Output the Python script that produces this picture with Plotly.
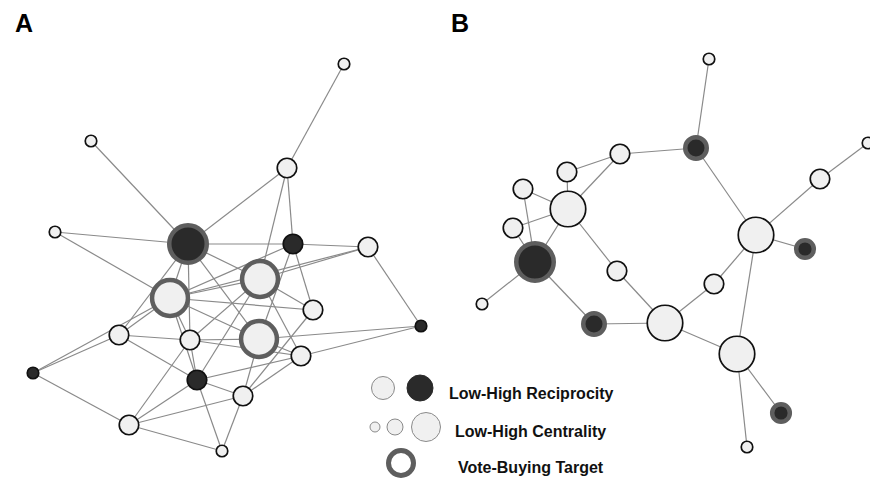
import plotly.graph_objects as go

# ---------------- data ----------------
# Panel A network
a_x = [344, 91, 287, 55, 188, 293, 368, 260, 170, 313, 421, 119, 190, 259, 301, 33, 197, 243, 129, 222]
a_y = [64, 141, 168, 232, 244, 244, 247, 279, 298, 310, 326, 335, 340, 339, 356, 373, 380, 396, 425, 451]
a_recip = [0, 0, 0, 0, 1, 1, 0, 0, 0, 0, 1, 0, 0, 0, 0, 1, 1, 0, 0, 0]          # 1 = high reciprocity
a_cent = [0.1, 0.1, 0.35, 0.1, 1.0, 0.35, 0.35, 0.95, 0.95, 0.35, 0.1, 0.35, 0.35, 0.95, 0.35, 0.1, 0.35, 0.35, 0.35, 0.1]
a_target = [0, 0, 0, 0, 1, 0, 0, 1, 1, 0, 0, 0, 0, 1, 0, 0, 0, 0, 0, 0]
a_edges = [(0, 2), (1, 4), (2, 4), (2, 5), (2, 7), (3, 4), (3, 8), (4, 5), (5, 6), (4, 7), (4, 8),
           (4, 11), (4, 12), (4, 13), (5, 8), (5, 9), (5, 13), (6, 7), (6, 10), (7, 8), (7, 9),
           (7, 12), (7, 16), (7, 14), (8, 9), (8, 13), (8, 11), (8, 12), (8, 16), (8, 15),
           (9, 17), (10, 13), (10, 14), (11, 12), (11, 16), (11, 15), (12, 13), (12, 14),
           (12, 18), (12, 16), (13, 14), (13, 17), (14, 17), (14, 16), (15, 18), (16, 17),
           (16, 18), (16, 19), (17, 18), (17, 19), (18, 19), (6, 8)]

# Panel B network
b_x = [709, 696, 620, 567, 523, 568, 513, 535, 482, 617, 594, 665, 714, 756, 805, 820, 868, 737, 781, 747]
b_y = [59, 148, 154, 172, 189, 209, 228, 262, 304, 271, 324, 323, 284, 235, 249, 179, 143, 354, 413, 447]
b_recip = [0, 1, 0, 0, 0, 0, 0, 1, 0, 0, 1, 0, 0, 0, 1, 0, 0, 0, 1, 0]
b_cent = [0.1, 0.5, 0.35, 0.35, 0.35, 0.85, 0.35, 1.0, 0.1, 0.35, 0.5, 0.85, 0.35, 0.85, 0.38, 0.35, 0.1, 0.85, 0.38, 0.1]
b_target = [0, 1, 0, 0, 0, 0, 0, 1, 0, 0, 1, 0, 0, 0, 1, 0, 0, 0, 1, 0]
b_edges = [(0, 1), (1, 2), (2, 3), (2, 5), (3, 5), (5, 7), (4, 5), (4, 7), (5, 6), (6, 7),
           (7, 8), (7, 10), (5, 9), (9, 11), (10, 11), (11, 12), (12, 13), (1, 13), (13, 15),
           (15, 16), (13, 14), (13, 17), (11, 17), (17, 18), (17, 19)]

panel_labels = ["A", "B"]
legend_labels = ["Low-High Reciprocity", "Low-High Centrality", "Vote-Buying Target"]

# ---------------- styling ----------------
EDGE = "#8a8a8a"
LIGHT = "#f0f0f0"
DARK = "#2a2a2a"
RING = "#5e5e5e"


def radius(c):
    return 5 + 16 * c


fig = go.Figure()


def add_network(xs, ys, recip, cent, target, edges):
    ex, ey = [], []
    for i, j in edges:
        ex += [xs[i], xs[j], None]
        ey += [ys[i], ys[j], None]
    fig.add_trace(go.Scatter(x=ex, y=ey, mode="lines",
                             line=dict(color=EDGE, width=1.2),
                             hoverinfo="skip", showlegend=False))
    sizes, lw, lc, fc = [], [], [], []
    for k in range(len(xs)):
        R = radius(cent[k])
        w = 4.5 if target[k] else 1.7
        sizes.append(2 * R - w)
        lw.append(w)
        lc.append(RING if target[k] else "#111111")
        fc.append(DARK if recip[k] else LIGHT)
    fig.add_trace(go.Scatter(x=xs, y=ys, mode="markers",
                             marker=dict(size=sizes, color=fc, opacity=1,
                                         line=dict(width=lw, color=lc)),
                             hoverinfo="skip", showlegend=False))


add_network(a_x, a_y, a_recip, a_cent, a_target, a_edges)
add_network(b_x, b_y, b_recip, b_cent, b_target, b_edges)

# ---------------- legend (drawn) ----------------
leg_x = [383, 420, 375, 395, 426, 401]
leg_y = [388, 388, 427, 427, 427, 463]
leg_size = [23, 26, 10, 16, 29, 25]
leg_fill = [LIGHT, DARK, LIGHT, LIGHT, LIGHT, "#ffffff"]
leg_lc = ["#8a8a8a", DARK, "#8a8a8a", "#8a8a8a", "#8a8a8a", RING]
leg_lw = [1, 1, 1, 1, 1, 5]
fig.add_trace(go.Scatter(x=leg_x, y=leg_y, mode="markers",
                         marker=dict(size=leg_size, color=leg_fill, opacity=1,
                                     line=dict(width=leg_lw, color=leg_lc)),
                         hoverinfo="skip", showlegend=False))

for txt, tx, ty in zip(legend_labels, [447, 453, 456], [393, 431, 467]):
    fig.add_annotation(x=tx, y=ty, text="<b>%s</b>" % txt, showarrow=False,
                       xanchor="left", yanchor="middle", xref="x", yref="y",
                       font=dict(family="Liberation Sans, Arial", size=16, color="#111111"))

for lab, lx in zip(panel_labels, [13, 449]):
    fig.add_annotation(x=lx, y=23, text="<b>%s</b>" % lab, showarrow=False,
                       xanchor="left", yanchor="middle", xref="x", yref="y",
                       font=dict(family="Liberation Sans, Arial", size=25, color="#000000"))

fig.update_layout(width=870, height=482, margin=dict(l=0, r=0, t=0, b=0),
                  paper_bgcolor="white", plot_bgcolor="white",
                  xaxis=dict(range=[0, 870], visible=False, fixedrange=True),
                  yaxis=dict(range=[482, 0], visible=False, fixedrange=True))

fig.write_html("out.html")
